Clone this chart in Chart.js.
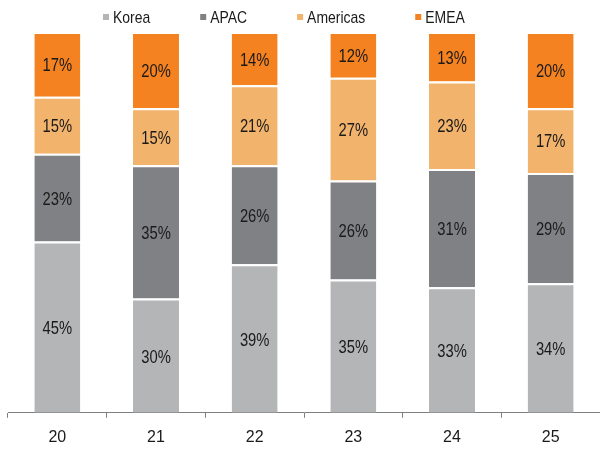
<!DOCTYPE html>
<html>
<head>
<meta charset="utf-8">
<script src="https://cdn.jsdelivr.net/npm/chart.js@4"></script>
<style>
html,body{margin:0;padding:0;background:#fff;}
#wrap{width:600px;height:450px;position:relative;}
</style>
</head>
<body>
<div id="wrap"><canvas id="c" width="600" height="450"></canvas></div>
<script>
const categories = ['20', '21', '22', '23', '24', '25'];
const seriesNames = ['Korea', 'APAC', 'Americas', 'EMEA'];
const korea = [45, 30, 39, 35, 33, 34];
const apac = [23, 35, 26, 26, 31, 29];
const americas = [15, 15, 21, 27, 23, 17];
const emea = [17, 20, 14, 12, 13, 20];
const colors = ['#b4b5b7', '#808184', '#f2b36d', '#f58220'];

const FONT = "'Liberation Sans', Arial, sans-serif";
const NARROW = 0.82;

const valueLabels = {
  id: 'valueLabels',
  afterDatasetsDraw(chart) {
    const ctx = chart.ctx;
    ctx.save();
    ctx.font = '18px ' + FONT;
    ctx.fillStyle = '#1a1a1a';
    ctx.textAlign = 'center';
    ctx.textBaseline = 'middle';
    ctx.scale(NARROW, 1);
    chart.data.datasets.forEach((ds, i) => {
      const meta = chart.getDatasetMeta(i);
      meta.data.forEach((el, j) => {
        const p = el.getProps(['x', 'y', 'base'], true);
        const yc = (p.y + 2 + p.base) / 2;
        ctx.fillText(ds.data[j] + '%', p.x / NARROW, yc + 1);
      });
    });
    ctx.restore();
  }
};

const customLegend = {
  id: 'customLegend',
  afterDraw(chart) {
    const ctx = chart.ctx;
    ctx.save();
    ctx.font = '17px ' + FONT;
    ctx.textBaseline = 'middle';
    ctx.textAlign = 'left';
    let x = 103;
    const y = 17;
    chart.data.datasets.forEach((ds) => {
      ctx.fillStyle = ds.backgroundColor;
      ctx.fillRect(x, y - 3, 6, 6);
      ctx.fillStyle = '#1a1a1a';
      ctx.save();
      ctx.scale(NARROW, 1);
      ctx.fillText(ds.label, (x + 10) / NARROW, y + 1);
      ctx.restore();
      x += 10 + ctx.measureText(ds.label).width * NARROW + 50;
    });
    ctx.restore();
  }
};

const seriesData = [korea, apac, americas, emea];
new Chart(document.getElementById('c'), {
  type: 'bar',
  data: {
    labels: categories,
    datasets: seriesNames.map((n, i) => ({
      label: n,
      data: seriesData[i],
      backgroundColor: colors[i],
      borderColor: '#ffffff',
      borderWidth: { top: 2, bottom: 0, left: 0, right: 0 },
      borderSkipped: 'start',
      barPercentage: 0.466,
      categoryPercentage: 1.0
    }))
  },
  options: {
    responsive: false,
    animation: false,
    devicePixelRatio: 1,
    layout: { padding: { left: 8, right: 0, top: 32, bottom: -7 } },
    plugins: {
      legend: { display: false },
      tooltip: { enabled: false }
    },
    scales: {
      x: {
        stacked: true,
        offset: true,
        grid: {
          display: true,
          offset: true,
          drawOnChartArea: false,
          drawTicks: true,
          tickLength: 5,
          color: '#7f7f7f',
          lineWidth: 1
        },
        border: { display: true, color: '#7f7f7f', width: 1 },
        ticks: {
          color: '#1a1a1a',
          font: { family: FONT, size: 16 },
          padding: 10
        }
      },
      y: {
        stacked: true,
        display: false,
        min: 0,
        max: 100
      }
    }
  },
  plugins: [valueLabels, customLegend]
});
</script>
</body>
</html>
